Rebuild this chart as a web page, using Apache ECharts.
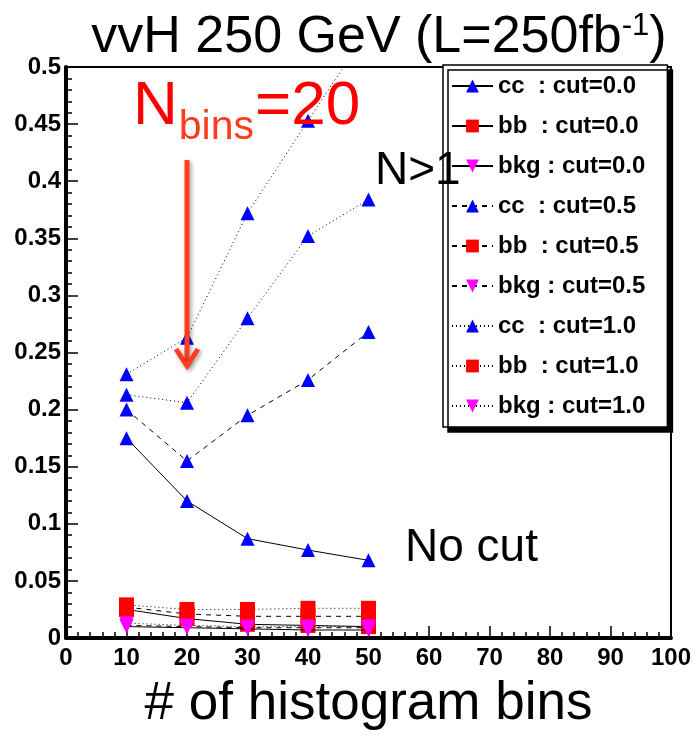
<!DOCTYPE html>
<html><head><meta charset="utf-8">
<script src="https://cdn.jsdelivr.net/npm/echarts@6/dist/echarts.min.js"></script>
<style>html,body{margin:0;padding:0;background:#fff}#c{width:694px;height:736px}</style>
</head><body><div id="c"></div>
<script>
// ---- data ----
const binsX = [10, 20, 30, 40, 50];
const ccCut00  = [0.175, 0.120, 0.087, 0.077, 0.068];
const bbCut00  = [0.025, 0.017, 0.012, 0.011, 0.010];
const bkgCut00 = [0.010, 0.009, 0.008, 0.007, 0.007];
const ccCut05  = [0.200, 0.155, 0.195, 0.226, 0.268];
const bbCut05  = [0.027, 0.021, 0.019, 0.019, 0.019];
const bkgCut05 = [0.011, 0.010, 0.009, 0.009, 0.009];
const ccCut10  = [0.213, 0.206, 0.280, 0.352, 0.384];
const bbCut10  = [0.029, 0.025, 0.025, 0.026, 0.026];
const bkgCut10 = [0.013, 0.011, 0.010, 0.010, 0.010];
const ccCut10N1 = [0.231, 0.263, 0.372, 0.453, 0.533];
const legendNames = [
  'cc  : cut=0.0', 'bb  : cut=0.0', 'bkg : cut=0.0',
  'cc  : cut=0.5', 'bb  : cut=0.5', 'bkg : cut=0.5',
  'cc  : cut=1.0', 'bb  : cut=1.0', 'bkg : cut=1.0'
];
const xMin = 0, xMax = 100, xStep = 10;
const yMin = 0, yMax = 0.5, yStep = 0.05;
const titleMain = 'vvH 250 GeV (L=250fb', titleSup = '-1', titleEnd = ')';
const xName = '# of histogram bins';

// ---- styles ----
const FONT = '"Liberation Sans", Arial, Helvetica, sans-serif';
const DOWN_TRI = 'path://M0,0L10,0L5,10Z';
const kinds = {
  cc:  {symbol: 'triangle', color: '#0000ff', size: 14},
  bb:  {symbol: 'rect', color: '#ff0000', size: 15},
  bkg: {symbol: DOWN_TRI, color: '#ff00ff', size: 14}
};
const dashes = {solid: 'solid', dashed: [5, 5], dotted: [1, 3]};

function mk(name, vals, kind, dash) {
  const k = kinds[kind];
  return {
    name: name, type: 'line',
    data: binsX.map((x, i) => [x, vals[i]]),
    symbol: k.symbol, symbolSize: k.size,
    itemStyle: {color: k.color},
    lineStyle: {color: '#000', width: 1, type: dashes[dash]},
    emphasis: {disabled: true},
    z: kind === 'bkg' ? 4 : (kind === 'bb' ? 3 : 5)
  };
}

const series = [
  mk(legendNames[0], ccCut00, 'cc', 'solid'),
  mk(legendNames[1], bbCut00, 'bb', 'solid'),
  mk(legendNames[2], bkgCut00, 'bkg', 'solid'),
  mk(legendNames[3], ccCut05, 'cc', 'dashed'),
  mk(legendNames[4], bbCut05, 'bb', 'dashed'),
  mk(legendNames[5], bkgCut05, 'bkg', 'dashed'),
  mk(legendNames[6], ccCut10, 'cc', 'dotted'),
  mk(legendNames[7], bbCut10, 'bb', 'dotted'),
  mk(legendNames[8], bkgCut10, 'bkg', 'dotted'),
  mk('cc  : cut=1.0 (N>1)', ccCut10N1, 'cc', 'dotted')
];

// text measuring for title pieces
const mctx = document.createElement('canvas').getContext('2d');
function tw(str, size, weight) {
  mctx.font = (weight || 'normal') + ' ' + size + 'px ' + FONT;
  return mctx.measureText(str).width;
}
const tSize = 52, sSize = 31;
const w1 = tw(titleMain, tSize), w2 = tw(titleSup, sSize), w3 = tw(titleEnd, tSize);
const tStart = 379 - (w1 + w2 + w3) / 2;

const nSize = 62, bSize = 41;
const wN = tw('N', nSize), wB = tw('bins', bSize);
const nStart = 133;

const arrowColor = '#ff3d1f';
const shadow = {shadowBlur: 4, shadowColor: 'rgba(0,0,0,0.35)', shadowOffsetX: 2, shadowOffsetY: 2};

const chart = echarts.init(document.getElementById('c'), null, {renderer: 'canvas'});
chart.setOption({
  animation: false,
  backgroundColor: '#fff',
  textStyle: {fontFamily: FONT},
  grid: {left: 66, right: 11, top: 67, bottom: 96, show: true, borderColor: '#000', borderWidth: 2, backgroundColor: '#fff'},
  xAxis: {
    type: 'value', min: xMin, max: xMax, interval: xStep,
    name: xName, nameLocation: 'middle', nameGap: 40,
    nameTextStyle: {fontSize: 53, color: '#000', fontFamily: FONT},
    axisLine: {show: true, onZero: false, lineStyle: {color: '#000', width: 4}},
    axisTick: {show: true, inside: true, length: 12, lineStyle: {color: '#000', width: 1.5}},
    minorTick: {show: true, splitNumber: 5, length: 6, lineStyle: {color: '#000', width: 1.5}},
    axisLabel: {fontSize: 24, fontWeight: 'bold', color: '#000', margin: 8, fontFamily: FONT},
    splitLine: {show: false}
  },
  yAxis: {
    type: 'value', min: yMin, max: yMax, interval: yStep,
    axisLine: {show: true, onZero: false, lineStyle: {color: '#000', width: 4}},
    axisTick: {show: true, inside: true, length: 12, lineStyle: {color: '#000', width: 1.5}},
    minorTick: {show: true, splitNumber: 5, length: 6, lineStyle: {color: '#000', width: 1.5}},
    axisLabel: {fontSize: 24, fontWeight: 'bold', color: '#000', margin: 5, fontFamily: FONT},
    splitLine: {show: false}
  },
  legend: {
    data: legendNames, orient: 'vertical', left: 443, top: 65,
    itemWidth: 41, itemHeight: 16, itemGap: 16,
    padding: [9, 22, 9, 8],
    backgroundColor: '#fff', borderColor: '#000', borderWidth: 1.5,
    shadowColor: '#000', shadowOffsetX: 5, shadowOffsetY: 5, shadowBlur: 0,
    selectedMode: false,
    textStyle: {fontSize: 24, fontWeight: 'bold', color: '#000', lineHeight: 22, fontFamily: FONT}
  },
  series: series,
  graphic: [
    {type: 'text', z: 100, x: tStart, y: 38, style: {text: titleMain, fontSize: tSize, fontFamily: FONT, fill: '#000', verticalAlign: 'middle', align: 'left'}},
    {type: 'text', z: 100, x: tStart + w1, y: 26, style: {text: titleSup, fontSize: sSize, fontFamily: FONT, fill: '#000', verticalAlign: 'middle', align: 'left'}},
    {type: 'text', z: 100, x: tStart + w1 + w2, y: 38, style: {text: titleEnd, fontSize: tSize, fontFamily: FONT, fill: '#000', verticalAlign: 'middle', align: 'left'}},
    {type: 'text', z: 100, x: nStart, y: 107, style: {text: 'N', fontSize: nSize, fontFamily: FONT, fill: '#ff0000', verticalAlign: 'middle', align: 'left'}},
    {type: 'text', z: 100, x: nStart + wN + 1, y: 128, style: {text: 'bins', fontSize: bSize, fontFamily: FONT, fill: '#ff3b1f', verticalAlign: 'middle', align: 'left'}},
    {type: 'text', z: 100, x: nStart + wN + wB + 2, y: 107, style: {text: '=20', fontSize: nSize, fontFamily: FONT, fill: '#ff0000', verticalAlign: 'middle', align: 'left'}},
    {type: 'text', z: 100, x: 375, y: 171, style: {text: 'N>1', fontSize: 46, fontFamily: FONT, fill: '#000', verticalAlign: 'middle', align: 'left'}},
    {type: 'text', z: 100, x: 405, y: 548, style: {text: 'No cut', fontSize: 46, fontFamily: FONT, fill: '#000', verticalAlign: 'middle', align: 'left'}},
    {type: 'line', z: 100, shape: {x1: 187, y1: 160, x2: 187, y2: 364}, style: Object.assign({stroke: arrowColor, lineWidth: 5}, shadow)},
    {type: 'polyline', z: 100, shape: {points: [[176, 349], [187, 366], [198, 349]]}, style: Object.assign({stroke: arrowColor, lineWidth: 5, fill: null, lineJoin: 'miter'}, shadow)}
  ]
});
</script>
</body></html>
